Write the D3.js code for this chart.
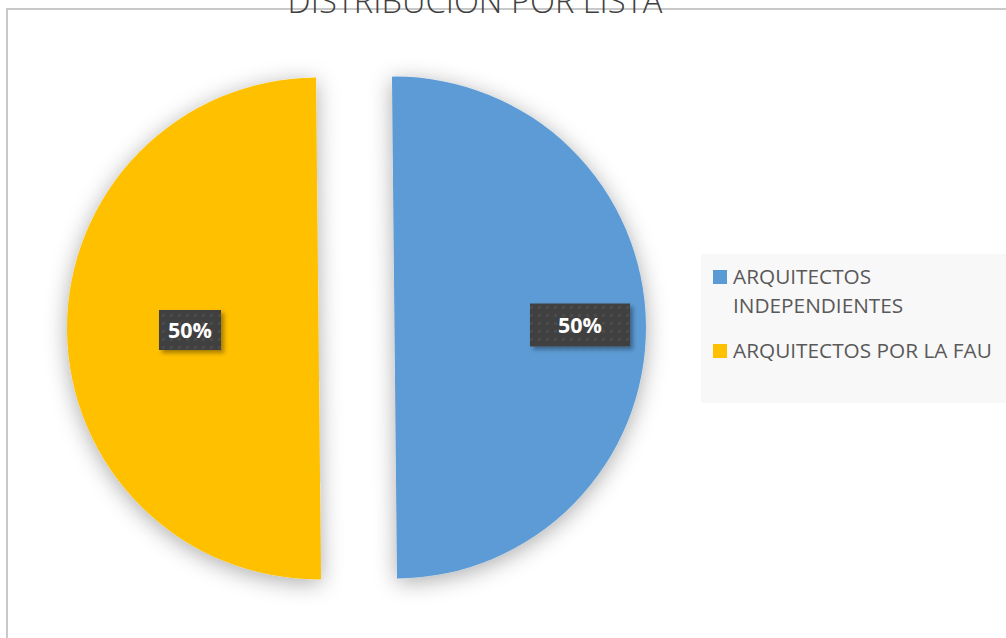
<!DOCTYPE html>
<html>
<head>
<meta charset="utf-8">
<script src="https://cdn.jsdelivr.net/npm/d3@7"></script>
<style>
html,body{margin:0;padding:0;background:#fff;}
svg{display:block;}
</style>
</head>
<body>
<svg id="chart" width="1006" height="638"></svg>
<script>
const categories = ["ARQUITECTOS INDEPENDIENTES", "ARQUITECTOS POR LA FAU"];
const legendLines = [["ARQUITECTOS", "INDEPENDIENTES"], ["ARQUITECTOS POR LA FAU"]];
const values = [50, 50];
const colors = ["#5B9BD5", "#FFC000"];
const title = "DISTRIBUCIÓN POR LISTA";

const svg = d3.select("#chart");
const defs = svg.append("defs");

const sh = defs.append("filter").attr("id","shadow").attr("x","-25%").attr("y","-25%").attr("width","150%").attr("height","150%");
sh.append("feDropShadow").attr("dx",0).attr("dy",4).attr("stdDeviation",11).attr("flood-color","#000").attr("flood-opacity",0.33);

const sh2 = defs.append("filter").attr("id","lshadow").attr("x","-20%").attr("y","-30%").attr("width","150%").attr("height","170%");
sh2.append("feDropShadow").attr("dx",3).attr("dy",3).attr("stdDeviation",2).attr("flood-color","#000").attr("flood-opacity",0.35);

const pat = defs.append("pattern").attr("id","dots").attr("patternUnits","userSpaceOnUse").attr("width",8).attr("height",8);
pat.append("rect").attr("width",8).attr("height",8).attr("fill","#404040");
pat.append("rect").attr("x",2).attr("y",2).attr("width",3).attr("height",3).attr("fill","#4b4b4b");

// border
svg.append("rect").attr("x",7).attr("y",9).attr("width",1100).attr("height",700)
  .attr("fill","#fff").attr("stroke","#c9c9c9").attr("stroke-width",2);

// title
const tt = svg.append("text").attr("x",475).attr("y",13).attr("text-anchor","middle")
  .attr("font-family","Open Sans, sans-serif").attr("font-weight",300).attr("fill","#404040")
  .attr("font-size",26).text(title);
{ const w = tt.node().getComputedTextLength(); tt.attr("font-size", 26*375/w); }

// pie
const cx = 356.5, cy = 328, R = 251, explode = 38;
const rot = -0.01;
const pie = d3.pie().sort(null).startAngle(rot).endAngle(2*Math.PI + rot);
const arc = d3.arc().innerRadius(0).outerRadius(R);
const arcs = pie(values);

const g = svg.append("g").attr("transform",`translate(${cx},${cy})`);
const slices = g.selectAll("g.slice").data(arcs).enter().append("g")
  .attr("transform", d => { const a=(d.startAngle+d.endAngle)/2; return `translate(${Math.sin(a)*explode},${-Math.cos(a)*explode})`; });
slices.append("path").attr("d", arc).attr("fill",(d,i)=>colors[i]).attr("filter","url(#shadow)");

// labels
const labelPos = [[580, 325, 100, 43], [190, 330, 62, 40]];
arcs.forEach((d,i) => {
  const [lx, ly, bw, bh] = labelPos[i];
  svg.append("rect").attr("x",lx-bw/2).attr("y",ly-bh/2).attr("width",bw).attr("height",bh)
    .attr("fill","url(#dots)").attr("filter","url(#lshadow)");
  svg.append("text").attr("x",lx).attr("y",ly+8).attr("text-anchor","middle")
    .attr("font-family","Open Sans, sans-serif").attr("font-weight",700).attr("font-size",21.5)
    .attr("fill","#fff").text(d3.format(".0%")(d.data/d3.sum(values)));
});

// legend
svg.append("rect").attr("x",701).attr("y",254).attr("width",310).attr("height",149).attr("fill","#f8f8f8");
const legY = [[284, 313], [358]];
categories.forEach((c,i) => {
  svg.append("rect").attr("x",713).attr("y",legY[i][0]-14).attr("width",14).attr("height",14).attr("fill",colors[i]);
  legendLines[i].forEach((ln,j) => {
    svg.append("text").attr("class","leg").attr("x",733).attr("y",legY[i][j])
      .attr("font-family","Open Sans, sans-serif").attr("font-size",18).attr("fill","#595959").text(ln);
  });
});
{
  const ref = svg.selectAll("text.leg").filter(function(){return this.textContent==="ARQUITECTOS POR LA FAU";}).node();
  const w = ref.getComputedTextLength();
  svg.selectAll("text.leg").attr("font-size", 18*259/w);
}
</script>
</body>
</html>
